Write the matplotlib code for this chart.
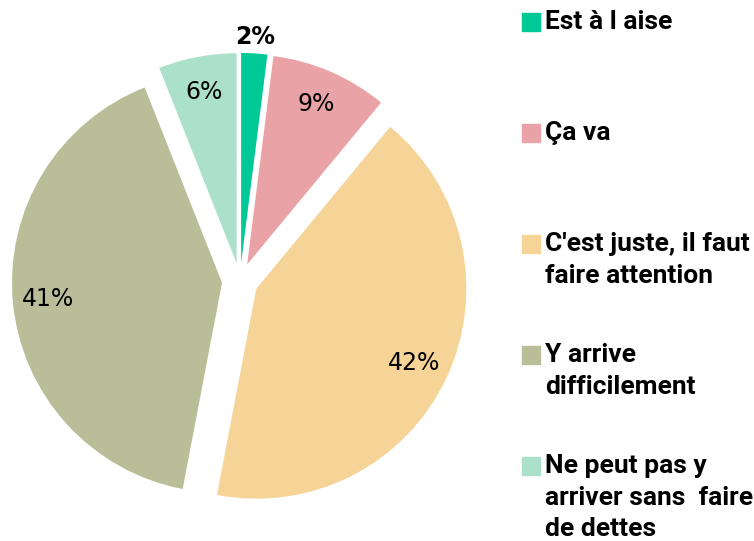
import matplotlib.pyplot as plt
from matplotlib.patches import Rectangle
import numpy as np

# Categories (in drawing order, clockwise from the top)
labels = ["Est à l aise", "Ça va", "C'est juste, il faut\nfaire attention",
          "Y arrive\ndifficilement", "Ne peut pas y\narriver sans  faire\nde dettes"]
values = [2, 9, 42, 41, 6]
colors = ["#00C896", "#E9A2A5", "#F6D397", "#B9BD98", "#ABE1CA"]

legend_font = ["Roboto", "DejaVu Sans"]

fig = plt.figure(figsize=(7.54, 5.41), dpi=100)
ax = fig.add_axes([0, 0, 1, 1])

wedges, texts, autotexts = ax.pie(
    values, colors=colors, startangle=90, counterclock=False,
    explode=[0.086] * len(values), radius=1.0,
    autopct="%d%%", pctdistance=0.83,
    textprops={"fontsize": 17, "color": "black", "family": "DejaVu Sans"},
    wedgeprops={"linewidth": 0},
)

# the small slice gets its label outside, in bold
w = wedges[0]
mid = np.deg2rad((w.theta1 + w.theta2) / 2)
cx, cy = w.center
autotexts[0].set_position((cx + 1.08 * np.cos(mid), cy + 1.08 * np.sin(mid)))
autotexts[0].set_fontweight("bold")

# 1 data unit = 210 px, pie centre at (240, 260) px from bottom-left
scale = 210.0
ax.set_xlim(-240 / scale, (754 - 240) / scale)
ax.set_ylim(-260 / scale, (541 - 260) / scale)
ax.axis("off")

# Legend: fixed-spacing entries, first line aligned with the square
W, H = 754.0, 541.0
for i, (lab, col) in enumerate(zip(labels, colors)):
    top = 13 + i * 111
    fig.patches.append(Rectangle((522 / W, 1 - (top + 18) / H), 18 / W, 18 / H,
                                 transform=fig.transFigure, color=col))
    fig.text(545 / W, 1 - (top - 3) / H, lab, family=legend_font,
             fontweight="bold", fontsize=19, va="top", ha="left",
             linespacing=1.4)

fig.savefig("out.png", dpi=100)
